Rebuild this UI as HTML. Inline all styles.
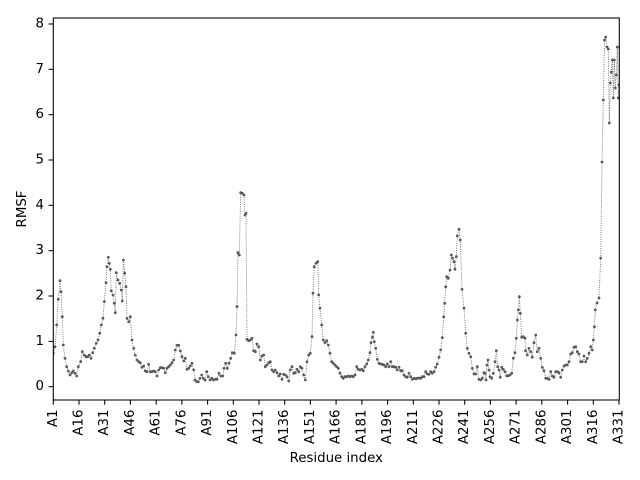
<!DOCTYPE html>
<html>
<head>
<meta charset="utf-8">
<style>
html,body{margin:0;padding:0;background:#fff;}
svg{display:block;}
text{font-family:"DejaVu Sans","Liberation Sans",sans-serif;font-size:13.33px;fill:#000;}
</style>
</head>
<body>
<svg width="640" height="480" viewBox="0 0 640 480" xmlns="http://www.w3.org/2000/svg">
<defs>
<marker id="dot" markerUnits="userSpaceOnUse" markerWidth="6" markerHeight="6" refX="3" refY="3" viewBox="0 0 6 6">
<circle cx="3" cy="3" r="1.4" fill="#5a5a5a" stroke="none"/>
</marker>
<clipPath id="clip"><rect x="53.3" y="18" width="566" height="382"/></clipPath>
</defs>
<rect width="640" height="480" fill="#fff"/>

<g clip-path="url(#clip)">
<polyline fill="none" stroke="#6e6e6e" stroke-width="0.9" stroke-dasharray="1,1.3" marker-start="url(#dot)" marker-mid="url(#dot)" marker-end="url(#dot)" points="
53.3,353.3 55,346.7 56.7,325 58.3,299.3 60,280.7 61,291.7 62.3,316.7 63.3,345 65,358.3 66.7,366.7 68.3,371 70,375 71.7,372.7 73.3,371 75,373.3 76.7,376 78.3,366.7 80.7,361.7 82.3,351.7 84.3,355 86,356.7 87.7,356.7 89.3,355 91,358.3 92.7,352.7 94.3,348.3 96.3,343.3 98,340 99.7,333.3 101.3,325 103,318.3 104.3,301.7 106,282.7 107,266.7 108.3,257.3 109.3,263.3 110.3,269.3 111.3,290.7 113,295 114.3,303.3 115.3,312.7 116.3,272.7 118,280 119.7,283.3 121.3,290 122.3,301 123.3,260 124.7,273.3 126,286.7 127,318.3 128.7,321.7 130.3,316.7 132,340 133.7,348.3 135.3,355 137,360 138.7,361.7 140.3,362.7 142,367.3 143.7,366 145.3,371 147,371.7 148.7,364.3 150.3,371.7 152,371.7 153.7,371 155.3,371.7 157,376 158.7,370 160.3,367.7 162,367.7 163.7,368.3 165.3,372.7 167,368.3 168.7,366.7 170.3,365 172,362.7 173.7,360 175.3,350 177,345.3 178.7,345.3 180.3,351 182,356.7 183.7,361 185.3,358.3 187,369.3 188.7,368.3 190.3,366 192,363.3 193.7,370
195,380 196.7,381.7 198.3,381.7 200,378.3 201.7,375 203.3,378.3 205,380 206.7,371.7 208.3,376.7 210,380 211.7,378.3 213.3,380 215,379.3 217,379.3 219,373.3 220.7,376 222.7,376 224,368.3 225.7,363.3 227.3,368.3 229,363.3 230.7,358.3 232.3,352.7 234.3,353.3 236,335 237,306.7 238,252.7 239.3,255 240.7,192.7 242.3,193.3 244,195 245,215 246,213.3 247,339.3 248.7,340.7 250.3,340 252,338.3 253.7,350.7 255.3,351.7 257,344 258.7,346.7 260.3,360 262,356 263.7,355 265.3,366.7 267,365 268.7,362.7 270.3,361.7 272,370 273.7,371.7 275.3,370 277,372.7 278.7,376 280.3,374 282,379.3 283.7,374.3 285.3,375 287,376.7 288.7,381 290.3,370 292,366.7 293.7,373.3 295.3,372.7 297,369.3 298.7,371.7 300.3,366.7 302,368.3 303.7,375 305.3,380 307,361.7 308.7,355 310.3,353.3 312,336.7 313,293.3 314.3,266.7 316,263.3 317.7,261.7 318.7,295 320,308.3 321.7,325 323.3,340 325,342.7 326.7,340.7 328.3,345 330,353.3 331.7,361.7 333.3,363.3 335,365 336.7,366.7 338.3,368.3 340,373.3 341.7,376.7 343.3,378.3
345,376.7 346.7,376.7 348.3,376 350,376.7 351.7,376 353.3,376.7 355,375 356.7,366.7 358.3,369.3 360,370 361.7,369.3 363.3,370.7 365,366.7 366.7,364 368.3,360 370,352.7 371,342.7 372.3,337.3 373.3,332.3 374.3,341.7 375.7,348.3 377.3,359.3 379,363.3 380.7,364 382.3,364.3 384,365 385.7,366.7 387.3,364 389,366.7 390.7,361.7 392.3,366.7 394,366.7 395.7,367.3 397.3,370 399,367.3 400.7,370.7 402.3,370.7 404,375 405.7,376.7 407.3,377.3 409,373.3 410.7,376.7 412.3,379.3 414,378.3 415.7,378.7 417.3,378.3 419,378 420.7,378.3 422.3,376.7 424,376.7 425.7,371.7 427.3,374 429,374.3 430.7,371.7 432.3,373.3 434,371.7 435.7,367.3 437.3,364 439,357.3 440.7,350 442.3,337.7 443.7,316.7 444.7,303.3 445.7,286.7 446.7,276.7 448.3,278.3 450,270 451.3,255 452.7,258.3 454,261.7 455,269.3 456.3,256.7 457.3,236 459,229.3 460.3,240 462,289.3 464,308.3 465.7,333.3 467.3,348.3 469,353.3 470.7,356.7 472.3,368.3 474,374 475.7,374 477.3,366.7 479,379.3 480.7,380 482.3,378.3 484,372.7
485,373.3 486,380 487,365 488,360 489,370 490,376.7 491.7,378.3 493.3,373.3 495,361.7 496.3,350.7 497.7,366.7 499,370 500.3,377.3 501.7,367.3 503.3,369.3 505,371.7 506.7,376 508.3,375.7 510,375 511.7,373.3 513.3,358.3 515,352.7 516.3,338.3 517.3,320 518.3,310 519.3,296.7 520.3,313.3 521.7,337.3 523.3,336.7 525,338.3 525.7,350.7 527.3,355 529,348.3 530.7,351.7 532.3,357.3 534,342.7 535.7,335 537.3,351.7 539,348.3 540.7,358.3 542.3,367.3 544,370.7 545.7,378.3 547.3,378.3 549,379.3 550.7,371.7 552.3,376 554,377.3 555.7,371.7 557.3,371.7 559,372.7 560.7,377.3 562.3,370 564,366 565.7,365 567.3,365 569,361.7 570.7,354 572.3,352.7 574,347.3 575.7,346.7 577.3,351.7 579,354 580.7,361.7 582.3,361.7 584,356 585.7,361.7 587.3,358.3 589,353.3 590.7,346.7 592.3,350 593.3,340 594.3,326.7 595.3,310 597,303 599,298 600.7,258 602,162 603.3,100 604.5,40 605.7,37 607,47 608.3,49 609.3,123 610.3,83 611.3,72 612.3,60 613.3,98 614.3,60 615.3,88 616.3,75 617.3,47 618.3,98 619,85"/>
</g>

<!-- axes box -->
<rect x="53.3" y="18" width="566" height="382" fill="none" stroke="#000" stroke-width="1.07"/>

<!-- y ticks -->
<g stroke="#000" stroke-width="1.07">
<line x1="48.6" y1="386.7" x2="53.3" y2="386.7"/>
<line x1="48.6" y1="341.4" x2="53.3" y2="341.4"/>
<line x1="48.6" y1="296.0" x2="53.3" y2="296.0"/>
<line x1="48.6" y1="250.7" x2="53.3" y2="250.7"/>
<line x1="48.6" y1="205.3" x2="53.3" y2="205.3"/>
<line x1="48.6" y1="160.0" x2="53.3" y2="160.0"/>
<line x1="48.6" y1="114.7" x2="53.3" y2="114.7"/>
<line x1="48.6" y1="69.3" x2="53.3" y2="69.3"/>
<line x1="48.6" y1="24.0" x2="53.3" y2="24.0"/>
</g>
<g text-anchor="end" dominant-baseline="central">
<text x="44" y="386.7">0</text>
<text x="44" y="341.4">1</text>
<text x="44" y="296.0">2</text>
<text x="44" y="250.7">3</text>
<text x="44" y="205.3">4</text>
<text x="44" y="160.0">5</text>
<text x="44" y="114.7">6</text>
<text x="44" y="69.3">7</text>
<text x="44" y="24.0">8</text>
</g>

<!-- x ticks -->
<g stroke="#000" stroke-width="1.07">
<line x1="53.3" y1="400" x2="53.3" y2="404.7"/>
<line x1="79.0" y1="400" x2="79.0" y2="404.7"/>
<line x1="104.7" y1="400" x2="104.7" y2="404.7"/>
<line x1="130.4" y1="400" x2="130.4" y2="404.7"/>
<line x1="156.2" y1="400" x2="156.2" y2="404.7"/>
<line x1="181.9" y1="400" x2="181.9" y2="404.7"/>
<line x1="207.6" y1="400" x2="207.6" y2="404.7"/>
<line x1="233.3" y1="400" x2="233.3" y2="404.7"/>
<line x1="259.0" y1="400" x2="259.0" y2="404.7"/>
<line x1="284.7" y1="400" x2="284.7" y2="404.7"/>
<line x1="310.4" y1="400" x2="310.4" y2="404.7"/>
<line x1="336.1" y1="400" x2="336.1" y2="404.7"/>
<line x1="361.9" y1="400" x2="361.9" y2="404.7"/>
<line x1="387.6" y1="400" x2="387.6" y2="404.7"/>
<line x1="413.3" y1="400" x2="413.3" y2="404.7"/>
<line x1="439.0" y1="400" x2="439.0" y2="404.7"/>
<line x1="464.7" y1="400" x2="464.7" y2="404.7"/>
<line x1="490.4" y1="400" x2="490.4" y2="404.7"/>
<line x1="516.1" y1="400" x2="516.1" y2="404.7"/>
<line x1="541.8" y1="400" x2="541.8" y2="404.7"/>
<line x1="567.6" y1="400" x2="567.6" y2="404.7"/>
<line x1="593.3" y1="400" x2="593.3" y2="404.7"/>
<line x1="619.0" y1="400" x2="619.0" y2="404.7"/>
</g>
<g text-anchor="end" dominant-baseline="central">
<text transform="translate(53.3,409.5) rotate(-90)">A1</text>
<text transform="translate(79.0,409.5) rotate(-90)">A16</text>
<text transform="translate(104.7,409.5) rotate(-90)">A31</text>
<text transform="translate(130.4,409.5) rotate(-90)">A46</text>
<text transform="translate(156.2,409.5) rotate(-90)">A61</text>
<text transform="translate(181.9,409.5) rotate(-90)">A76</text>
<text transform="translate(207.6,409.5) rotate(-90)">A91</text>
<text transform="translate(233.3,409.5) rotate(-90)">A106</text>
<text transform="translate(259.0,409.5) rotate(-90)">A121</text>
<text transform="translate(284.7,409.5) rotate(-90)">A136</text>
<text transform="translate(310.4,409.5) rotate(-90)">A151</text>
<text transform="translate(336.1,409.5) rotate(-90)">A166</text>
<text transform="translate(361.9,409.5) rotate(-90)">A181</text>
<text transform="translate(387.6,409.5) rotate(-90)">A196</text>
<text transform="translate(413.3,409.5) rotate(-90)">A211</text>
<text transform="translate(439.0,409.5) rotate(-90)">A226</text>
<text transform="translate(464.7,409.5) rotate(-90)">A241</text>
<text transform="translate(490.4,409.5) rotate(-90)">A256</text>
<text transform="translate(516.1,409.5) rotate(-90)">A271</text>
<text transform="translate(541.8,409.5) rotate(-90)">A286</text>
<text transform="translate(567.6,409.5) rotate(-90)">A301</text>
<text transform="translate(593.3,409.5) rotate(-90)">A316</text>
<text transform="translate(619.0,409.5) rotate(-90)">A331</text>
</g>

<!-- axis labels -->
<text x="336.3" y="462" text-anchor="middle">Residue index</text>
<text transform="translate(26,209) rotate(-90)" text-anchor="middle">RMSF</text>
</svg>
</body>
</html>
